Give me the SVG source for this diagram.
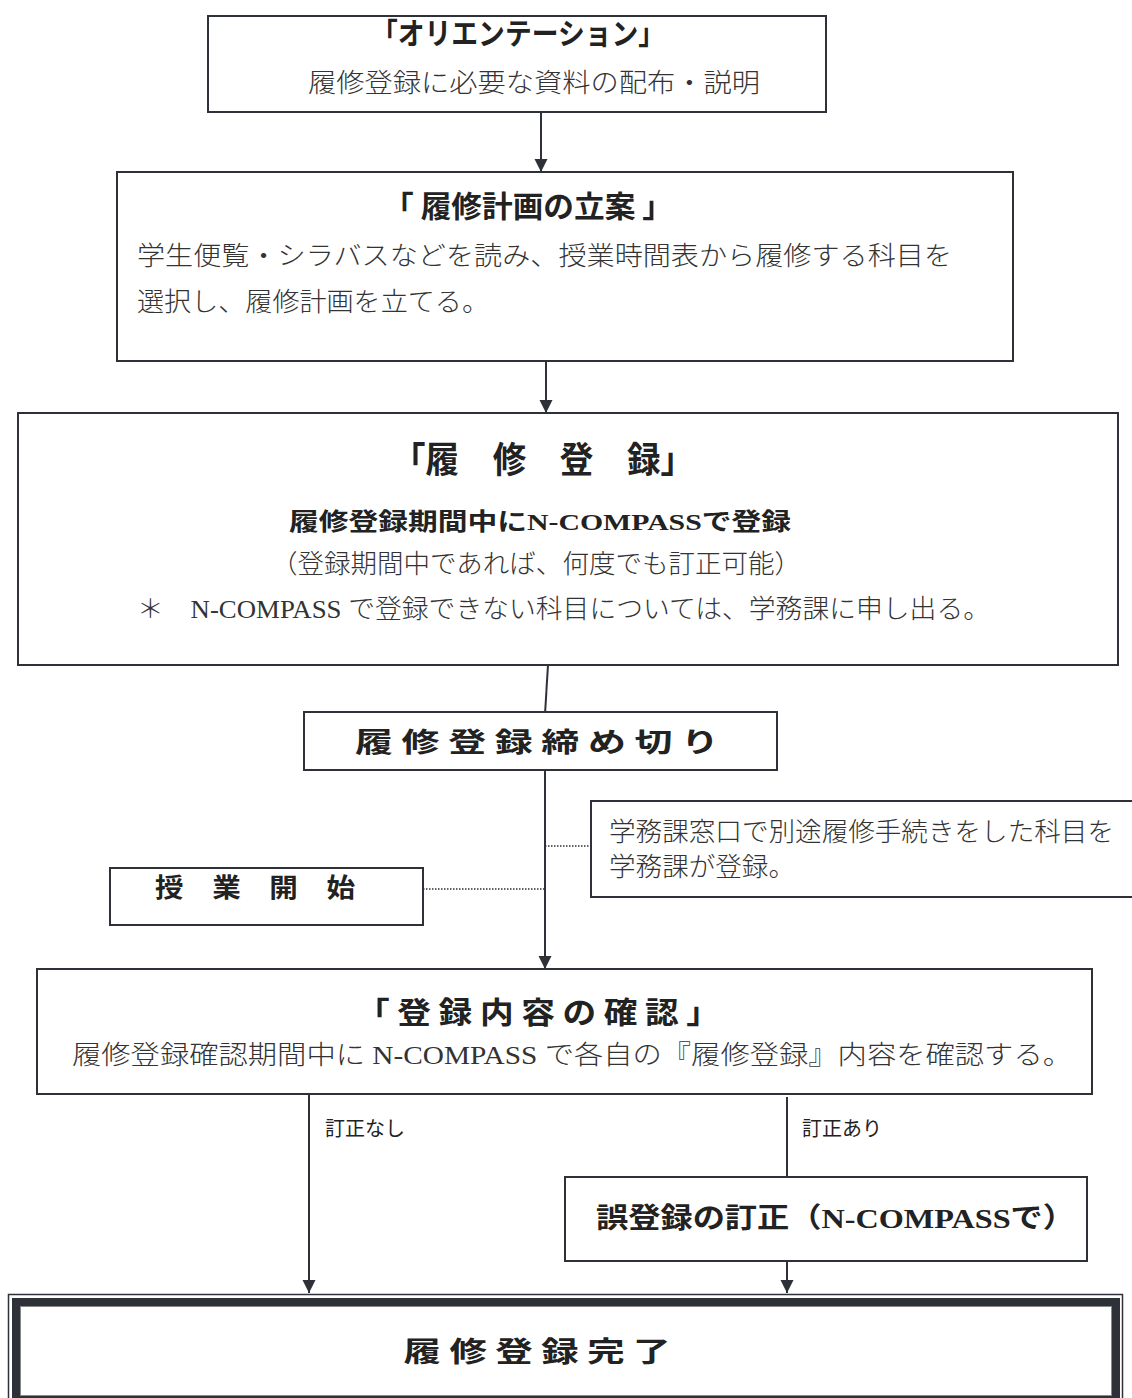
<svg xmlns="http://www.w3.org/2000/svg" width="1132" height="1398" viewBox="0 0 1132 1398">
<style>
.box{fill:#fff;stroke:#2e3138;stroke-width:2}
.ln{fill:none;stroke:#2e3138;stroke-width:2}
.dot{fill:none;stroke:#2e3138;stroke-width:1.5;stroke-dasharray:1.5 1.5}
.ttl{font-family:"Noto Sans CJK JP","Noto Sans CJK SC",sans-serif;font-weight:bold;fill:#222;text-anchor:middle}
.body{font-family:"Liberation Serif","Noto Sans CJK JP",serif;font-size:26px;font-weight:300;fill:#333}
.bserif{font-family:"Liberation Serif","Noto Sans CJK JP",serif;font-weight:bold;fill:#222}
.lbl{font-family:"Noto Sans CJK JP",sans-serif;font-size:20px;fill:#222}
</style>
<defs>
<marker id="ah" markerUnits="userSpaceOnUse" markerWidth="14" markerHeight="14" refX="13" refY="6.5" orient="auto">
<path d="M0,0 L13,6.5 L0,13 z" fill="#2e3138"/>
</marker>
</defs>

<g id="connectors">
<line class="ln" x1="541" y1="112" x2="541" y2="172" marker-end="url(#ah)"/>
<line class="ln" x1="546" y1="361" x2="546" y2="413" marker-end="url(#ah)"/>
<line class="ln" x1="548" y1="665" x2="545" y2="714"/>
<line class="ln" x1="545" y1="770" x2="545" y2="969" marker-end="url(#ah)"/>
<line class="dot" x1="545" y1="846" x2="591" y2="846"/>
<line class="dot" x1="423" y1="889" x2="545" y2="889"/>
<line class="ln" x1="309" y1="1094" x2="309" y2="1293" marker-end="url(#ah)"/>
<line class="ln" x1="787" y1="1097" x2="787" y2="1177"/>
<line class="ln" x1="787" y1="1261" x2="787" y2="1293" marker-end="url(#ah)"/>
<text class="lbl" x="325" y="1136">訂正なし</text>
<text class="lbl" x="802" y="1136">訂正あり</text>
</g>

<g id="orientation">
<rect class="box" x="208" y="16" width="618" height="96"/>
<text class="ttl" x="518" y="44" font-size="30" textLength="294" lengthAdjust="spacingAndGlyphs">「オリエンテーション」</text>
<text class="body" x="534" y="92" text-anchor="middle" textLength="452" lengthAdjust="spacingAndGlyphs">履修登録に必要な資料の配布・説明</text>
</g>

<g id="plan">
<rect class="box" x="117" y="172" width="896" height="189"/>
<text class="ttl" x="528" y="217" font-size="30" textLength="290" lengthAdjust="spacingAndGlyphs">「 履修計画の立案 」</text>
<text class="body" x="137" y="265" textLength="815" lengthAdjust="spacingAndGlyphs">学生便覧・シラバスなどを読み、授業時間表から履修する科目を</text>
<text class="body" x="137" y="311" textLength="352" lengthAdjust="spacingAndGlyphs">選択し、履修計画を立てる。</text>
</g>

<g id="register">
<rect class="box" x="18" y="413" width="1100" height="252"/>
<text class="ttl" x="543" y="473" font-size="36" textLength="302" lengthAdjust="spacingAndGlyphs">「履　修　登　録」</text>
<text class="bserif" x="540" y="530" font-size="24" text-anchor="middle" textLength="502" lengthAdjust="spacingAndGlyphs">履修登録期間中にN-COMPASSで登録</text>
<text class="body" x="536" y="573" text-anchor="middle" textLength="530" lengthAdjust="spacingAndGlyphs">（登録期間中であれば、何度でも訂正可能）</text>
<text class="body" x="137" y="618" textLength="853" lengthAdjust="spacingAndGlyphs">＊　N-COMPASS で登録できない科目については、学務課に申し出る。</text>
</g>

<g id="deadline">
<rect class="box" x="304" y="712" width="473" height="58"/>
<text class="ttl" x="537" y="752" font-size="27" textLength="364" lengthAdjust="spacingAndGlyphs">履 修 登 録 締 め 切 り</text>
</g>

<g id="note">
<path class="ln" d="M1140,801 H591 V897 H1140"/>
<text class="body" x="609" y="841" textLength="505" lengthAdjust="spacingAndGlyphs">学務課窓口で別途履修手続きをした科目を</text>
<text class="body" x="609" y="876" textLength="186" lengthAdjust="spacingAndGlyphs">学務課が登録。</text>
</g>

<g id="class-start">
<rect class="box" x="110" y="868" width="313" height="57"/>
<text class="ttl" x="255" y="897" font-size="26" textLength="200" lengthAdjust="spacingAndGlyphs">授　業　開　始</text>
</g>

<g id="confirm">
<rect class="box" x="37" y="969" width="1055" height="125"/>
<text class="ttl" x="538" y="1023" font-size="30" textLength="364" lengthAdjust="spacingAndGlyphs">「 登 録 内 容 の 確 認 」</text>
<text class="body" x="72" y="1064" textLength="1000" lengthAdjust="spacingAndGlyphs">履修登録確認期間中に N-COMPASS で各自の『履修登録』内容を確認する。</text>
</g>

<g id="correct">
<rect class="box" x="565" y="1177" width="522" height="84"/>
<text class="bserif" x="596" y="1228" font-size="28" textLength="479" lengthAdjust="spacingAndGlyphs">誤登録の訂正（N-COMPASSで）</text>
</g>

<g id="complete">
<rect x="8.5" y="1294.5" width="1114" height="116" fill="#fff" stroke="#2e3138" stroke-width="1.5"/>
<rect x="16" y="1302" width="1100" height="98" fill="none" stroke="#2e3138" stroke-width="8"/>
<rect x="20.5" y="1306.5" width="1091" height="89" fill="none" stroke="#888" stroke-width="1"/>
<text class="ttl" x="537" y="1362" font-size="28" textLength="267" lengthAdjust="spacingAndGlyphs">履 修 登 録 完 了</text>
</g>
</svg>
